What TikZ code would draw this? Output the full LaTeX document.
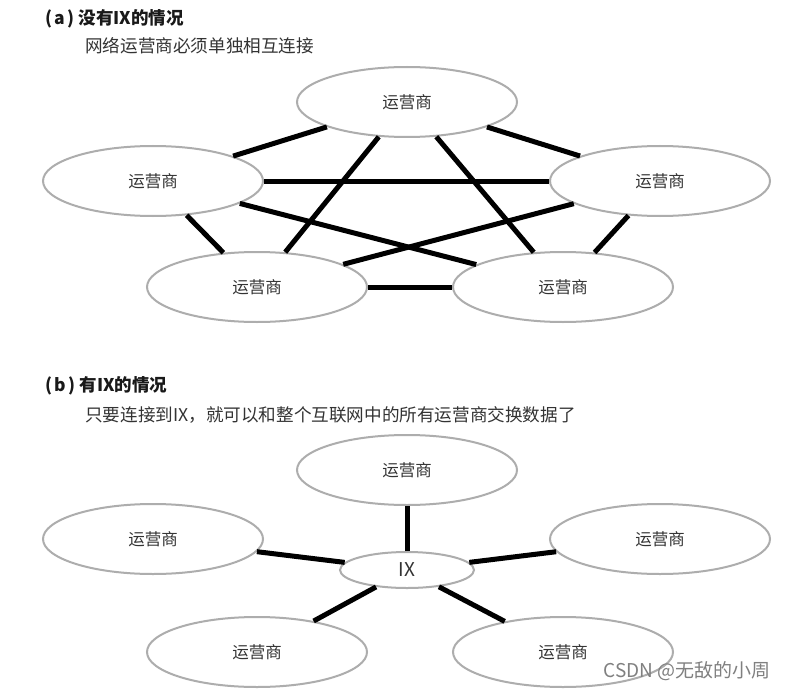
\documentclass[tikz,border=0pt]{standalone}
\usepackage{fontspec}
\setmainfont{Noto Sans CJK SC}
\usetikzlibrary{shapes.geometric}
\begin{document}
\begin{tikzpicture}[x=1pt,y=-1pt,
  op/.style={ellipse,draw=black!32,line width=2pt,fill=white,minimum width=220pt,minimum height=70pt,inner sep=0pt,font=\fontsize{16.5}{18}\selectfont,text=black!80},
  ixnode/.style={ellipse,draw=black!32,line width=2pt,fill=white,minimum width=134pt,minimum height=36pt,inner sep=0pt,font=\fontsize{19}{20}\selectfont,text=black!80},
  link/.style={line width=5pt,black},
  ttl/.style={anchor=west,font=\fontsize{17.5}{19}\selectfont\bfseries,text=black!90,inner sep=0pt},
  sub/.style={anchor=west,font=\fontsize{17.6}{19}\selectfont,text=black!80,inner sep=0pt}]
\path[use as bounding box,fill=white] (0,0) rectangle (786,695);
\node[ttl] (ta) at (45,19) {(\hspace{2.5pt}a\hspace{2.5pt})\hspace{4pt}没有IX的情况};
\node[sub] (sa) at (85,46) {网络运营商必须单独相互连接};
% (a)
\node[op] (t) at (407,102) {运营商};
\node[op] (l) at (153,181) {运营商};
\node[op] (r) at (660,181) {运营商};
\node[op] (bl) at (257,287) {运营商};
\node[op] (br) at (563,287) {运营商};
\draw[link] (t) -- (l);
\draw[link] (t) -- (r);
\draw[link] (t) -- (bl);
\draw[link] (t) -- (br);
\draw[link] (l) -- (r);
\draw[link] (l) -- (bl);
\draw[link] (l) -- (br);
\draw[link] (r) -- (bl);
\draw[link] (r) -- (br);
\draw[link] (bl) -- (br);
% (b)
\node[ttl] (tb) at (45,386) {(\hspace{2.5pt}b\hspace{2.5pt})\hspace{4pt}有IX的情况};
\node[sub] (sb) at (85,415) {只要连接到IX，就可以和整个互联网中的所有运营商交换数据了};
\node[op] (t2) at (407,470) {运营商};
\node[op] (l2) at (153,539) {运营商};
\node[op] (r2) at (660,539) {运营商};
\node[op] (bl2) at (257,652) {运营商};
\node[op] (br2) at (563,652) {运营商};
\node[ixnode] (ix) at (407,570) {IX};
\draw[link] (ix) -- (t2);
\draw[link] (ix) -- (l2);
\draw[link] (ix) -- (r2);
\draw[link] (ix) -- (bl2);
\draw[link] (ix) -- (br2);
\node[anchor=east,inner sep=0pt,font=\fontsize{19}{20}\selectfont,text=black!50] (wm) at (771,671) {CSDN @无敌的小周};
\end{tikzpicture}
\end{document}
